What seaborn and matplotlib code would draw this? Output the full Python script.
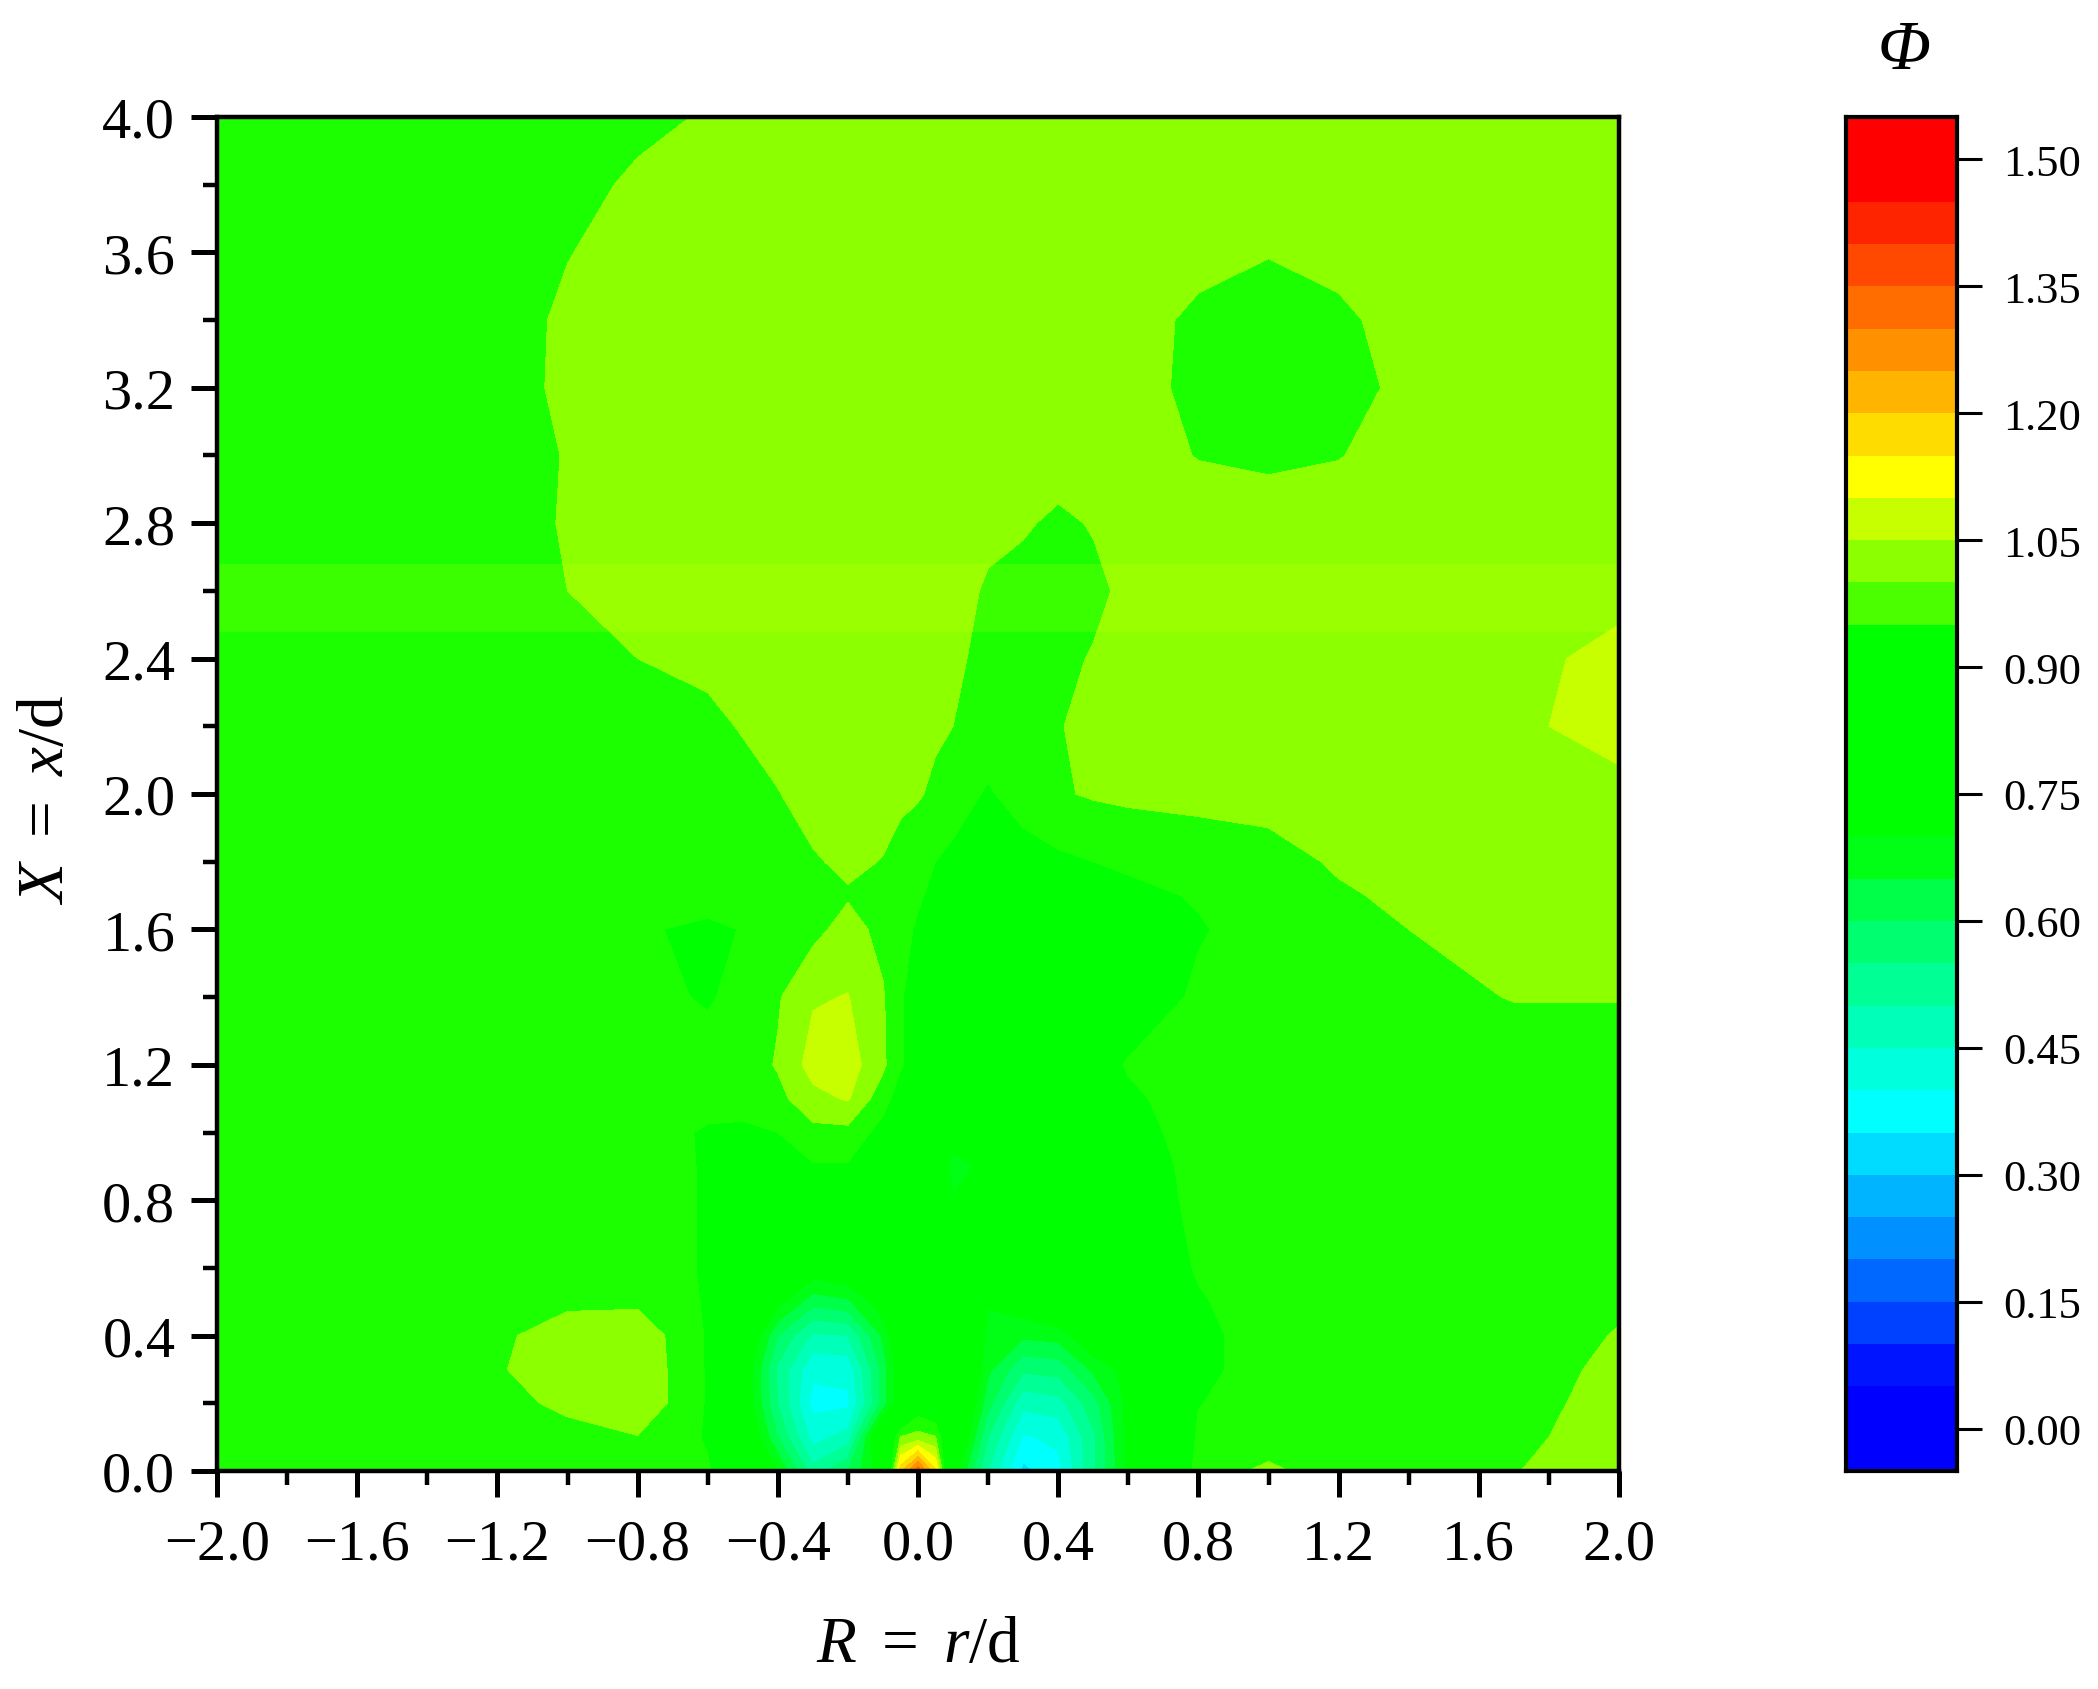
import numpy as np
import matplotlib
matplotlib.use("Agg")
import matplotlib.pyplot as plt
from matplotlib.colors import ListedColormap, BoundaryNorm
import seaborn as sns

# sample positions
r_vals = [-2.0, -1.6, -1.2, -1.0, -0.8, -0.6, -0.5, -0.4, -0.3, -0.2, -0.1, -0.05, 0.0, 0.05,
          0.1, 0.2, 0.3, 0.4, 0.5, 0.6, 0.8, 1.0, 1.2, 1.4, 1.7, 2.0]
x_vals = [0.0, 0.1, 0.2, 0.3, 0.4, 0.5, 0.6, 0.8, 0.9, 1.0, 1.1, 1.2, 1.4, 1.6, 1.7,
          1.8, 2.0, 2.2, 2.4, 2.6, 2.8, 3.0, 3.2, 3.4, 3.6, 3.8, 4.0]

# phi, one row per x/d (r = +-0.05 kept apart below)
phi_00 = [.975, .975, .975, .975, .98, .955, .90, .70, .52, .60, .74, 1.34, .74, .50, .335, .385, .54, .715, .975, 1.01, .975, .975, .997, 1.04]
phi_01 = [.975, .975, .975, .985, .998, .945, .80, .60, .43, .47, .82, 1.02, .82, .55, .395, .41, .54, .72, .96, .975, .975, .975, .985, 1.03]
phi_02 = [.975, .975, .985, 1.01, 1.04, .945, .76, .55, .385, .39, .62, .905, .85, .62, .465, .48, .58, .72, .948, .975, .975, .975, .98, 1.02]
phi_03 = [.975, .975, .995, 1.03, 1.04, .945, .76, .54, .41, .415, .62, .88, .88, .66, .56, .57, .66, .72, .935, .975, .975, .975, .975, 1.013]
phi_04 = [.975, .975, .99, 1.025, 1.035, .945, .80, .60, .49, .50, .66, .88, .90, .68, .66, .67, .76, .80, .935, .975, .975, .975, .975, 1.003]
phi_05 = [.975, .975, .975, .99, .99, .945, .85, .72, .62, .64, .74, .88, .90, .705, .74, .80, .88, .88, .945, .975, .975, .975, .975, .993]
phi_06 = [.975, .975, .975, .975, .975, .945, .90, .82, .74, .76, .84, .90, .91, .88, .90, .92, .93, .90, .955, .975, .975, .975, .975, .98]
phi_08 = [.975, .975, .975, .975, .975, .945, .93, .93, .92, .92, .90, .90, .705, .78, .90, .91, .91, .91, .965, .975, .975, .975, .975, .975]
phi_09 = [.975, .975, .975, .975, .975, .945, .93, .94, .945, .945, .92, .88, .675, .72, .88, .90, .91, .915, .968, .975, .975, .975, .975, .975]
phi_10 = [.975, .975, .975, .975, .97, .945, .945, .95, .985, .985, .93, .90, .73, .80, .88, .90, .91, .925, .975, .975, .975, .975, .975, .975]
phi_11 = [.975, .975, .975, .975, .975, .965, .96, .985, 1.035, 1.055, .97, .91, .82, .85, .89, .90, .915, .94, .975, .975, .975, .975, .975, .975]
phi_12 = [.975, .975, .975, .975, .975, .97, .97, 1.005, 1.07, 1.075, 1.01, .93, .90, .90, .90, .90, .92, .955, .975, .975, .975, .975, .975, .975]
phi_14 = [.975, .975, .975, .975, .965, .945, .965, .995, 1.045, 1.052, 1.005, .925, .92, .92, .92, .92, .92, .91, .96, .975, .975, .985, 1.002, 1.002]
phi_16 = [.975, .975, .975, .975, .953, .945, .951, .975, .985, 1.02, .985, .945, .92, .92, .92, .92, .92, .92, .945, .975, .985, 1.0, 1.02, 1.02]
phi_17 = [.975, .975, .975, .975, .965, .96, .965, .98, .99, .995, .99, .955, .93, .925, .925, .925, .93, .935, .955, .98, .995, 1.008, 1.025, 1.025]
phi_18 = [.975, .975, .975, .975, .975, .975, .98, .985, .995, 1.01, .998, .965, .94, .93, .93, .94, .95, .96, .98, .985, 1.005, 1.015, 1.03, 1.03]
phi_20 = [.975, .975, .975, .975, .975, .98, .985, .998, 1.02, 1.03, 1.02, 1.005, .97, .945, .97, .995, 1.005, 1.01, 1.01, 1.015, 1.02, 1.025, 1.03, 1.035]
phi_22 = [.975, .975, .975, .975, .98, .99, 1.003, 1.02, 1.03, 1.03, 1.03, 1.015, 1.0, .975, .975, .998, 1.01, 1.02, 1.025, 1.025, 1.025, 1.03, 1.04, 1.07]
phi_24 = [.975, .975, .975, .985, 1.0, 1.01, 1.02, 1.025, 1.03, 1.03, 1.03, 1.02, 1.01, .985, .985, .99, 1.003, 1.02, 1.025, 1.025, 1.025, 1.03, 1.04, 1.06]
phi_26 = [.975, .975, .975, 1.0, 1.02, 1.025, 1.025, 1.025, 1.03, 1.03, 1.03, 1.025, 1.015, .995, .985, .985, .99, 1.01, 1.025, 1.025, 1.025, 1.025, 1.03, 1.04]
phi_28 = [.975, .975, .975, 1.005, 1.02, 1.025, 1.025, 1.025, 1.025, 1.025, 1.025, 1.025, 1.02, 1.01, 1.005, .992, 1.003, 1.02, 1.025, 1.025, 1.025, 1.025, 1.025, 1.025]
phi_30 = [.975, .975, .975, 1.003, 1.02, 1.025, 1.025, 1.025, 1.025, 1.025, 1.025, 1.025, 1.02, 1.02, 1.02, 1.02, 1.02, 1.02, .998, .99, .998, 1.02, 1.025, 1.025]
phi_32 = [.975, .975, .975, 1.012, 1.02, 1.025, 1.025, 1.025, 1.025, 1.025, 1.025, 1.025, 1.025, 1.025, 1.025, 1.025, 1.02, 1.015, .99, .975, .985, 1.01, 1.025, 1.025]
phi_34 = [.975, .975, .975, 1.01, 1.02, 1.025, 1.025, 1.025, 1.025, 1.025, 1.025, 1.025, 1.025, 1.025, 1.025, 1.025, 1.025, 1.02, .99, .98, .99, 1.02, 1.025, 1.025]
phi_36 = [.975, .975, .975, .998, 1.02, 1.025, 1.025, 1.025, 1.025, 1.025, 1.025, 1.025, 1.025, 1.025, 1.025, 1.025, 1.025, 1.025, 1.015, 1.002, 1.015, 1.025, 1.025, 1.025]
phi_38 = [.975, .975, .975, .98, 1.01, 1.025, 1.025, 1.025, 1.025, 1.025, 1.025, 1.025, 1.025, 1.025, 1.025, 1.025, 1.025, 1.025, 1.025, 1.025, 1.025, 1.025, 1.025, 1.025]
phi_40 = [.975, .975, .975, .975, .985, 1.005, 1.02, 1.025, 1.025, 1.025, 1.025, 1.025, 1.025, 1.025, 1.025, 1.025, 1.025, 1.025, 1.025, 1.025, 1.025, 1.025, 1.025, 1.025]

# the columns either side of the hot spot at the nozzle
col_m05 = [1.18, 1.003, .76, .75, .77, .81, .87, .90, .90, .915, .925, .955, .955, .962, .97, .98, 1.012, 1.022, 1.025, 1.028, 1.025, 1.025, 1.025, 1.025, 1.025, 1.025, 1.025]
col_p05 = [1.16, 1.003, .875, .88, .89, .89, .905, .80, .78, .81, .86, .915, .92, .93, .94, .95, .99, 1.008, 1.015, 1.02, 1.022, 1.022, 1.025, 1.025, 1.025, 1.025, 1.025]

# colour bands, bottom to top, 0.05 wide
levels = np.arange(-0.05, 1.5501, 0.05)
band_colors = ["#0000FF", "#0000FF", "#0014FF", "#0040FF", "#0068FF", "#0090FF", "#00B4FF", "#00DCFF",
               "#00FFFF", "#00FFDC", "#00FFB8", "#00FF94", "#00FF70", "#00FF48", "#00FF14", "#00FF00",
               "#00FF00", "#00FF00", "#00FF00", "#00FF00", "#1CFF00", "#8CFF00", "#C8FF00", "#FFFF00",
               "#FFDC00", "#FFB400", "#FF9000", "#FF6C00", "#FF4800", "#FF2400", "#FF0000", "#FF0000"]
# the scale shows the 0.95-1.00 band a little yellower than the field does
bar_colors = band_colors[:20] + ["#4CFF00"] + band_colors[21:]

r_ticks = [-2.0, -1.6, -1.2, -0.8, -0.4, 0.0, 0.4, 0.8, 1.2, 1.6, 2.0]
x_ticks = [0.0, 0.4, 0.8, 1.2, 1.6, 2.0, 2.4, 2.8, 3.2, 3.6, 4.0]
phi_ticks = [0.00, 0.15, 0.30, 0.45, 0.60, 0.75, 0.90, 1.05, 1.20, 1.35, 1.50]

sns.set_theme(style="ticks")
plt.rcParams["font.family"] = ["Liberation Serif", "DejaVu Serif"]
plt.rcParams["mathtext.fontset"] = "custom"
plt.rcParams["mathtext.rm"] = "Liberation Serif"
plt.rcParams["mathtext.it"] = "Liberation Serif:italic"

W, H = 2098, 1690
fig = plt.figure(figsize=(W / 100, H / 100), dpi=100, facecolor="white")
ax = fig.add_axes([217 / W, 1 - 1472 / H, (1619 - 217) / W, (1472 - 118) / H])
cax = fig.add_axes([1846 / W, 1 - 1472 / H, (1957 - 1846) / W, (1472 - 118) / H])

phi = np.array([phi_00, phi_01, phi_02, phi_03, phi_04, phi_05, phi_06, phi_08, phi_09, phi_10, phi_11,
                phi_12, phi_14, phi_16, phi_17, phi_18, phi_20, phi_22, phi_24, phi_26, phi_28,
                phi_30, phi_32, phi_34, phi_36, phi_38, phi_40])
phi = np.insert(phi, [11, 12], np.column_stack([col_m05, col_p05]), axis=1)

cmap = ListedColormap(band_colors)
norm = BoundaryNorm(levels, cmap.N)
ax.contourf(r_vals, x_vals, phi, levels=levels, cmap=cmap, norm=norm)

# the lighter strip across the field
ax.axhspan(2.48, 2.68, color="#FFFF00", alpha=0.13, lw=0)

ax.set_xlim(-2, 2)
ax.set_ylim(0, 4)
ax.set_xticks(r_ticks)
ax.set_xticklabels([f"{t:.1f}".replace("-", "\u2212") for t in r_ticks])
ax.set_yticks(x_ticks)
ax.set_yticklabels([f"{t:.1f}" for t in x_ticks])
ax.set_xticks(np.arange(-1.8, 2, 0.4), minor=True)
ax.set_yticks(np.arange(0.2, 4, 0.4), minor=True)
ax.tick_params(which="major", length=19, width=3.6, labelsize=42, color="black", labelcolor="black")
ax.tick_params(which="minor", length=10, width=3.2, color="black")
ax.tick_params(axis="x", which="major", pad=15)
ax.tick_params(axis="y", which="major", pad=11)
for s in ax.spines.values():
    s.set_visible(True)
    s.set_linewidth(3.2)
    s.set_color("black")
ax.set_zorder(2)

fig.text(918 / W, 1 - 1646 / H, r"$R\ =\ r/\mathrm{d}$", fontsize=47, ha="center", va="center", color="black")
fig.text(47 / W, 1 - 800 / H, r"$X\ =\ x/\mathrm{d}$", fontsize=47, ha="center", va="center", rotation=90, color="black")

# colour scale, one cell per band
mids = (levels[:-1] + levels[1:]) / 2
sns.heatmap(mids[::-1].reshape(-1, 1), ax=cax, cmap=ListedColormap(bar_colors), norm=norm, cbar=False,
            xticklabels=False, yticklabels=False)
cax.yaxis.tick_right()
cax.set_yticks([(1.55 - t) / 0.05 for t in phi_ticks])
cax.set_yticklabels([f"{t:.2f}" for t in phi_ticks], rotation=0)
cax.tick_params(axis="y", length=18, width=2.2, labelsize=32, pad=15, color="black", labelcolor="black", right=True, left=False)
for s in cax.spines.values():
    s.set_visible(True)
    s.set_linewidth(3)
    s.set_color("black")
fig.text(1904 / W, 1 - 52 / H, "\u03a6", fontsize=50, style="italic", ha="center", va="center", color="black")

fig.savefig("out.png", dpi=100, facecolor="white")
